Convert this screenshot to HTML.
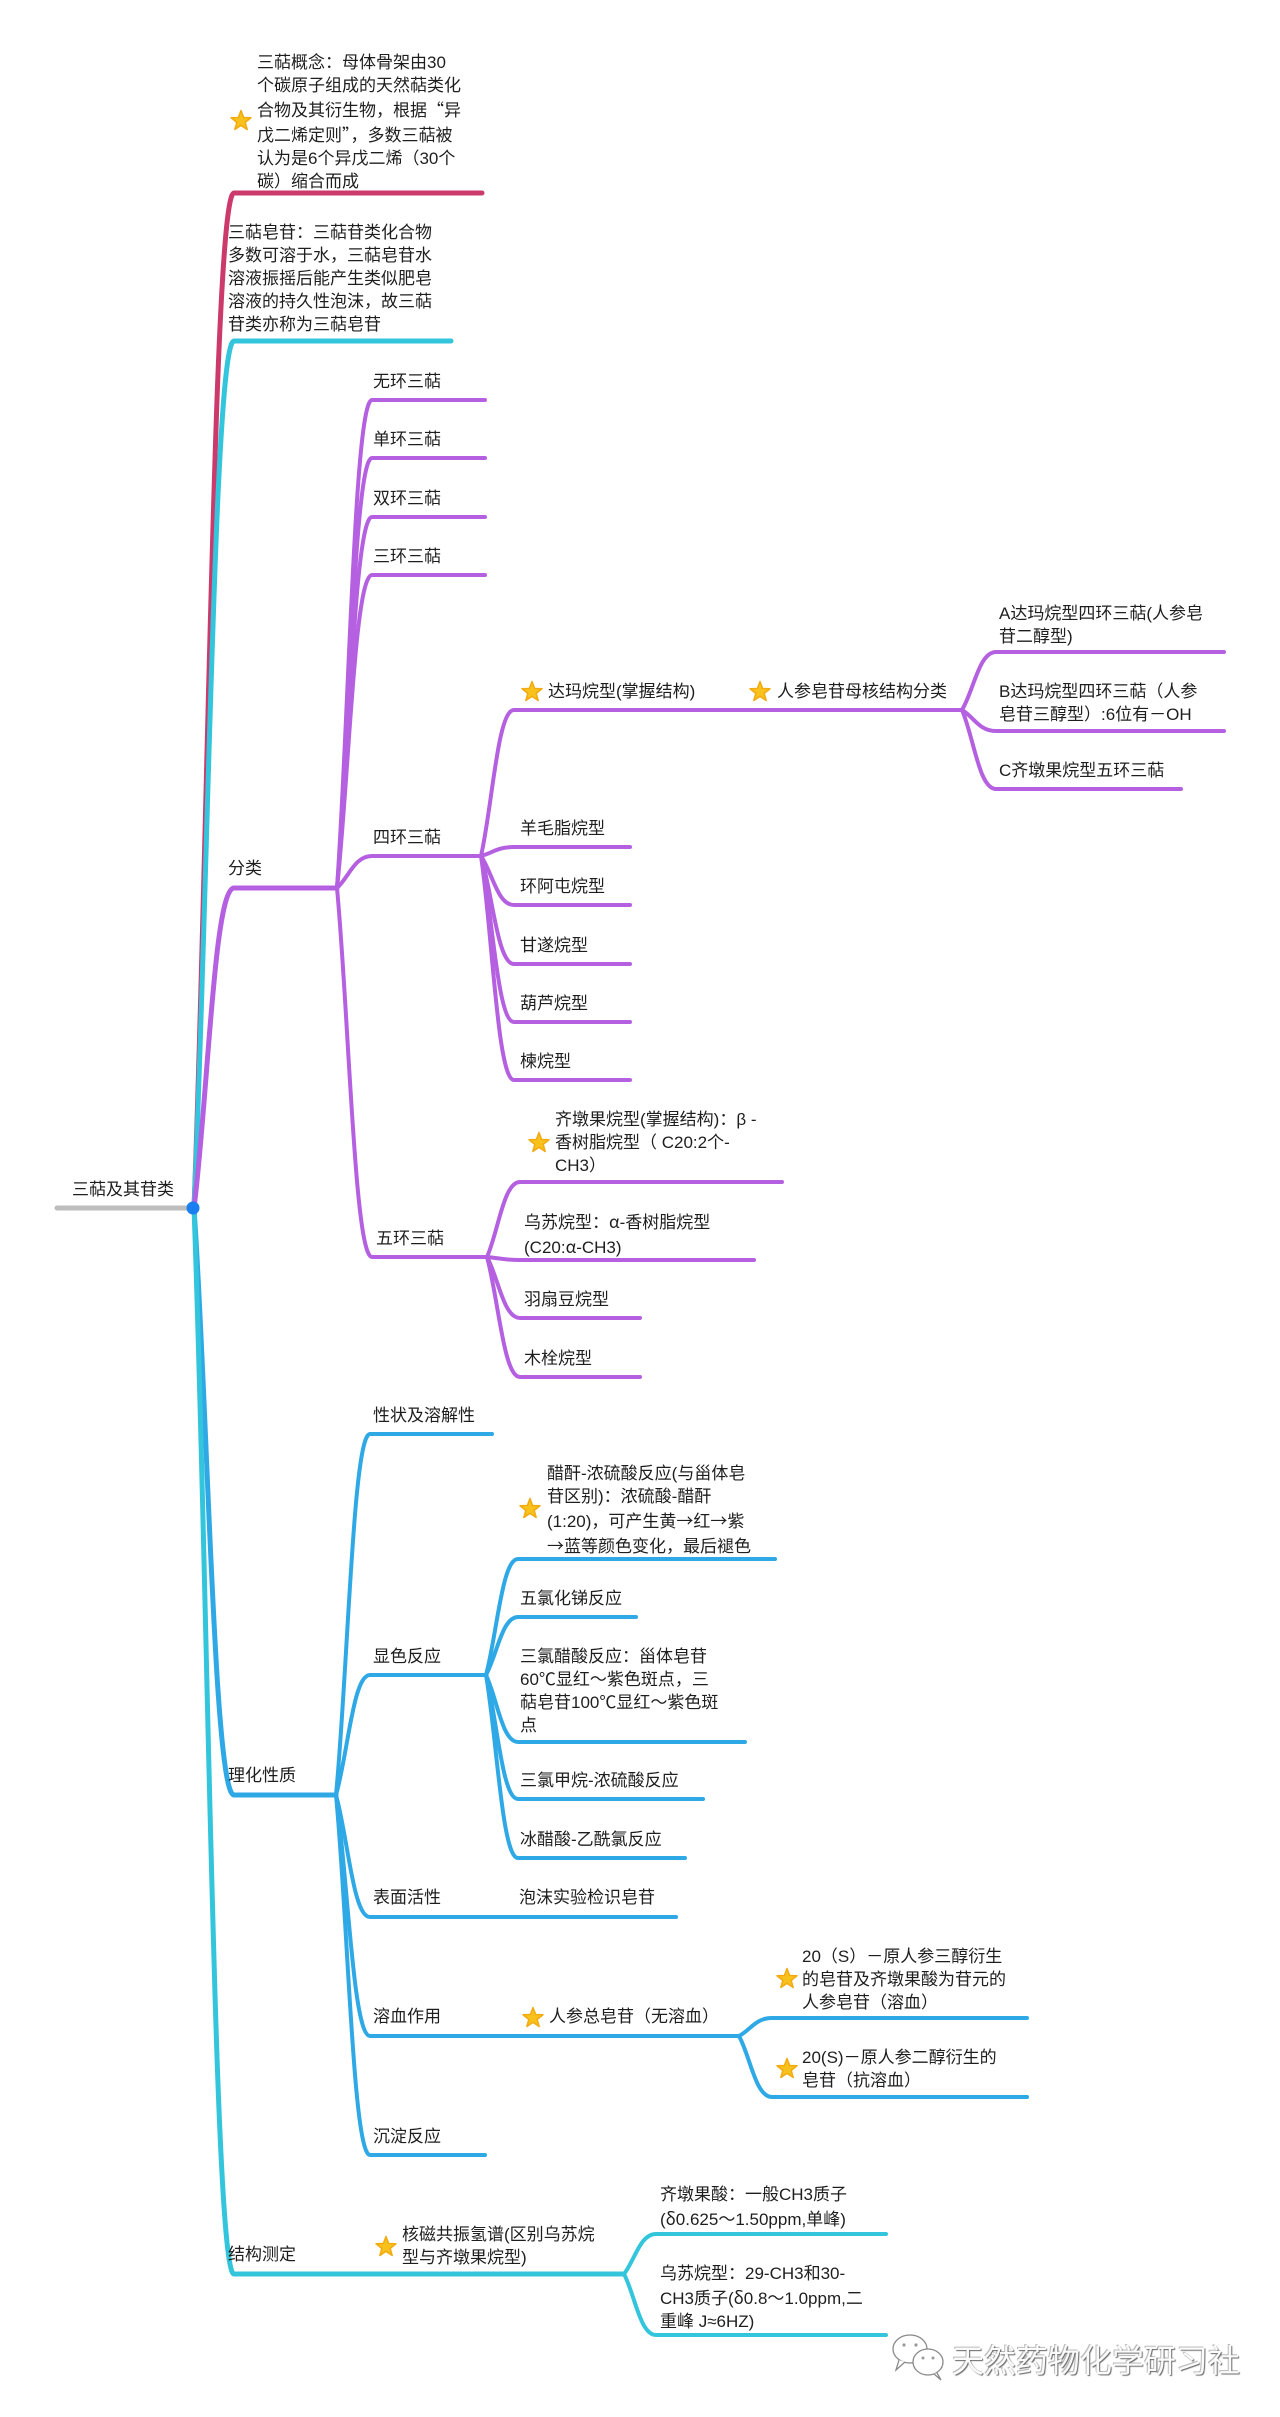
<!DOCTYPE html>
<html>
<head>
<meta charset="utf-8">
<style>
html,body{margin:0;padding:0;background:#fff;}
body{width:1280px;height:2417px;position:relative;overflow:hidden;
font-family:"Liberation Sans","Noto Sans CJK SC","WenQuanYi Zen Hei",sans-serif;}
svg{position:absolute;left:0;top:0;}
.t{position:absolute;white-space:nowrap;font-size:17px;line-height:23px;color:#1e1e1e;}
.c{font-family:"Noto Sans CJK SC","WenQuanYi Zen Hei",sans-serif;}
.wm{position:absolute;white-space:nowrap;font-size:32px;line-height:40px;color:#fafafa;
text-shadow:1px 1px 1px #666,-1px -1px 0 #bbb;letter-spacing:0px;}
</style>
</head>
<body>
<svg width="1280" height="2417" viewBox="0 0 1280 2417" xmlns="http://www.w3.org/2000/svg">
<defs>
<polygon id="star" points="0,-1 0.247,-0.34 0.951,-0.309 0.399,0.13 0.588,0.809 0,0.42 -0.588,0.809 -0.399,0.13 -0.951,-0.309 -0.247,-0.34" fill="#f8c11c" stroke="#f2aa10" stroke-width="0.14" stroke-linejoin="round"/>
</defs>
<g fill="none" stroke-linecap="round" stroke-linejoin="round">
<line x1="57" y1="1208" x2="192" y2="1208" stroke="#bdbdbd" stroke-width="5"/>
<path d="M194 1208 C208 853 214 193 234 193 L482 193" stroke="#cc3a6c" stroke-width="5"/>
<path d="M194 1208 C208 905 214 341 234 341 L451 341" stroke="#33c5dc" stroke-width="5"/>
<path d="M194 1208 C208 1096 214 888 234 888 L337 888" stroke="#b460e0" stroke-width="5"/>
<path d="M194 1208 C208 1413 214 1795 234 1795 L336 1795" stroke="#2ea9e6" stroke-width="5"/>
<path d="M194 1208 C208 1581 214 2274 234 2274 L624 2274" stroke="#33c5dc" stroke-width="5"/>

<g stroke="#b460e0" stroke-width="4">
<path d="M337 888 C349 717 354.5 400 372 400 L485 400"/>
<path d="M337 888 C349 737 354.5 458 372 458 L485 458"/>
<path d="M337 888 C349 758 354.5 517 372 517 L485 517"/>
<path d="M337 888 C349 778 354.5 575 372 575 L485 575"/>
<path d="M337 888 C349 877 354.5 856 372 856 L481 856"/>
<path d="M337 888 C349 1017 354.5 1257 372 1257 L487 1257"/>
<path d="M481 856 C492.5 805 497.5 710 514 710 L962 710"/>
<path d="M481 856 C492.5 853 497.5 847 514 847 L630 847"/>
<path d="M481 856 C492.5 873 497.5 905 514 905 L630 905"/>
<path d="M481 856 C492.5 894 497.5 964 514 964 L630 964"/>
<path d="M481 856 C492.5 914 497.5 1022 514 1022 L630 1022"/>
<path d="M481 856 C492.5 934 497.5 1080 514 1080 L630 1080"/>
<path d="M962 710 C974 690 979 652 996 652 L1224 652"/>
<path d="M962 710 C974 717 979 731 996 731 L1224 731"/>
<path d="M962 710 C974 738 979 789 996 789 L1181 789"/>
<path d="M487 1257 C498.5 1231 503.5 1182 520 1182 L782 1182"/>
<path d="M487 1257 C498.5 1258 503.5 1260 520 1260 L754 1260"/>
<path d="M487 1257 C498.5 1278 503.5 1318 520 1318 L640 1318"/>
<path d="M487 1257 C498.5 1299 503.5 1377 520 1377 L640 1377"/>
</g>

<g stroke="#2ea9e6" stroke-width="4">
<path d="M336 1795 C348 1669 353 1434 370 1434 L492 1434"/>
<path d="M336 1795 C348 1753 353 1675 370 1675 L486 1675"/>
<path d="M336 1795 C348 1838 353 1917 370 1917 L676 1917"/>
<path d="M336 1795 C348 1879 353 2036 370 2036 L739 2036"/>
<path d="M336 1795 C348 1921 353 2155 370 2155 L485 2155"/>
<path d="M486 1675 C497 1634 502 1559 518 1559 L775 1559"/>
<path d="M486 1675 C497 1655 502 1617 518 1617 L636 1617"/>
<path d="M486 1675 C497 1698 502 1742 518 1742 L745 1742"/>
<path d="M486 1675 C497 1718 502 1799 518 1799 L703 1799"/>
<path d="M486 1675 C497 1739 502 1858 518 1858 L685 1858"/>
<path d="M739 2036 C750.5 2030 755.5 2018 772 2018 L1027 2018"/>
<path d="M739 2036 C750.5 2057 755.5 2097 772 2097 L1027 2097"/>
</g>

<g stroke="#33c5dc" stroke-width="4">
<path d="M624 2274 C635 2260 640 2234 656 2234 L886 2234"/>
<path d="M624 2274 C635 2295 640 2335 656 2335 L886 2335"/>
</g>
</g>

<circle cx="193" cy="1208" r="6.5" fill="#1a7ff0"/>

<use href="#star" transform="translate(241,121) scale(10.5)"/>
<use href="#star" transform="translate(532,692) scale(10.5)"/>
<use href="#star" transform="translate(760,692) scale(10.5)"/>
<use href="#star" transform="translate(539,1143) scale(10.5)"/>
<use href="#star" transform="translate(530,1509) scale(10.5)"/>
<use href="#star" transform="translate(533,2018) scale(10.5)"/>
<use href="#star" transform="translate(787,1979) scale(10.5)"/>
<use href="#star" transform="translate(787,2069) scale(10.5)"/>
<use href="#star" transform="translate(386,2247) scale(10.5)"/>

<g fill="#fff" stroke="#8a8a8a" stroke-width="1.3">
<ellipse cx="910" cy="2349" rx="17" ry="14"/>
<path d="M899 2360 L896 2370 L905 2362" />
<ellipse cx="928" cy="2362" rx="15" ry="13"/>
<path d="M937 2373 L941 2380 L934 2374" />
</g>
<g fill="#9a9a9a">
<circle cx="904" cy="2345" r="1.6"/><circle cx="916" cy="2345" r="1.6"/>
<circle cx="923" cy="2358" r="1.5"/><circle cx="933" cy="2358" r="1.5"/>
</g>
</svg>

<div class="t" style="left:72px;top:1178px;">三萜及其苷类</div>

<div class="t" style="left:257px;top:51px;">三萜概念：母体骨架由30<br>个碳原子组成的天然萜类化<br>合物及其衍生物，根据<span class="c">“</span>异<br>戊二烯定则<span class="c">”</span>，多数三萜被<br>认为是6个异戊二烯（30个<br>碳）缩合而成</div>

<div class="t" style="left:228px;top:221px;">三萜皂苷：三萜苷类化合物<br>多数可溶于水，三萜皂苷水<br>溶液振摇后能产生类似肥皂<br>溶液的持久性泡沫，故三萜<br>苷类亦称为三萜皂苷</div>

<div class="t" style="left:228px;top:857px;">分类</div>
<div class="t" style="left:373px;top:370px;">无环三萜</div>
<div class="t" style="left:373px;top:428px;">单环三萜</div>
<div class="t" style="left:373px;top:487px;">双环三萜</div>
<div class="t" style="left:373px;top:545px;">三环三萜</div>
<div class="t" style="left:373px;top:826px;">四环三萜</div>
<div class="t" style="left:376px;top:1227px;">五环三萜</div>

<div class="t" style="left:548px;top:680px;">达玛烷型(掌握结构)</div>
<div class="t" style="left:777px;top:680px;">人参皂苷母核结构分类</div>
<div class="t" style="left:999px;top:602px;">A达玛烷型四环三萜(人参皂<br>苷二醇型)</div>
<div class="t" style="left:999px;top:680px;">B达玛烷型四环三萜（人参<br>皂苷三醇型）:6位有－OH</div>
<div class="t" style="left:999px;top:759px;">C齐墩果烷型五环三萜</div>

<div class="t" style="left:520px;top:817px;">羊毛脂烷型</div>
<div class="t" style="left:520px;top:875px;">环阿屯烷型</div>
<div class="t" style="left:520px;top:934px;">甘遂烷型</div>
<div class="t" style="left:520px;top:992px;">葫芦烷型</div>
<div class="t" style="left:520px;top:1050px;">楝烷型</div>

<div class="t" style="left:555px;top:1108px;">齐墩果烷型(掌握结构)：β -<br>香树脂烷型（ C20:2个-<br>CH3）</div>
<div class="t" style="left:524px;top:1209px;">乌苏烷型：<span class="c">α</span>-香树脂烷型<br>(C20:<span class="c">α</span>-CH3)</div>
<div class="t" style="left:524px;top:1288px;">羽扇豆烷型</div>
<div class="t" style="left:524px;top:1347px;">木栓烷型</div>

<div class="t" style="left:228px;top:1764px;">理化性质</div>
<div class="t" style="left:373px;top:1404px;">性状及溶解性</div>
<div class="t" style="left:373px;top:1645px;">显色反应</div>
<div class="t" style="left:547px;top:1462px;">醋酐-浓硫酸反应(与甾体皂<br>苷区别)：浓硫酸-醋酐<br>(1:20)，可产生黄<span class="c">→</span>红<span class="c">→</span>紫<br><span class="c">→</span>蓝等颜色变化，最后褪色</div>
<div class="t" style="left:520px;top:1587px;">五氯化锑反应</div>
<div class="t" style="left:520px;top:1645px;">三氯醋酸反应：甾体皂苷<br>60℃显红～紫色斑点，三<br>萜皂苷100℃显红～紫色斑<br>点</div>
<div class="t" style="left:520px;top:1769px;">三氯甲烷-浓硫酸反应</div>
<div class="t" style="left:520px;top:1828px;">冰醋酸-乙酰氯反应</div>
<div class="t" style="left:373px;top:1886px;">表面活性</div>
<div class="t" style="left:519px;top:1886px;">泡沫实验检识皂苷</div>
<div class="t" style="left:373px;top:2005px;">溶血作用</div>
<div class="t" style="left:549px;top:2005px;">人参总皂苷（无溶血）</div>
<div class="t" style="left:802px;top:1945px;">20（S）－原人参三醇衍生<br>的皂苷及齐墩果酸为苷元的<br>人参皂苷（溶血）</div>
<div class="t" style="left:802px;top:2046px;">20(S)－原人参二醇衍生的<br>皂苷（抗溶血）</div>
<div class="t" style="left:373px;top:2125px;">沉淀反应</div>

<div class="t" style="left:228px;top:2243px;">结构测定</div>
<div class="t" style="left:402px;top:2223px;">核磁共振氢谱(区别乌苏烷<br>型与齐墩果烷型)</div>
<div class="t" style="left:660px;top:2183px;">齐墩果酸：一般CH3质子<br>(<span class="c">δ</span>0.625～1.50ppm,单峰)</div>
<div class="t" style="left:660px;top:2262px;">乌苏烷型：29-CH3和30-<br>CH3质子(<span class="c">δ</span>0.8～1.0ppm,二<br>重峰 J≈6HZ)</div>

<div class="wm" style="left:952px;top:2341px;">天然药物化学研习社</div>
</body>
</html>
